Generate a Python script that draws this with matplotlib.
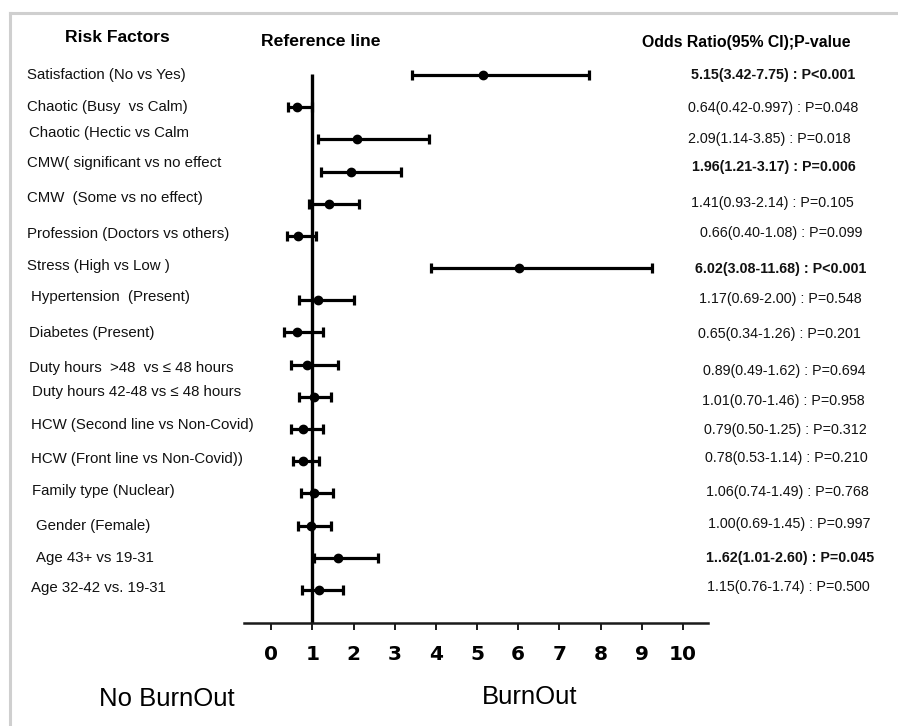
import matplotlib
matplotlib.use("Agg")
import matplotlib.pyplot as plt
import matplotlib.transforms as mtransforms
from matplotlib.lines import Line2D

# ---------------- data ----------------
factors = [
    "Satisfaction (No vs Yes)",
    "Chaotic (Busy  vs Calm)",
    "Chaotic (Hectic vs Calm",
    "CMW( significant vs no effect",
    "CMW  (Some vs no effect)",
    "Profession (Doctors vs others)",
    "Stress (High vs Low )",
    "Hypertension  (Present)",
    "Diabetes (Present)",
    "Duty hours  >48  vs \u2264 48 hours",
    "Duty hours 42-48 vs \u2264 48 hours",
    "HCW (Second line vs Non-Covid)",
    "HCW (Front line vs Non-Covid))",
    "Family type (Nuclear)",
    "Gender (Female)",
    "Age 43+ vs 19-31",
    "Age 32-42 vs. 19-31",
]
# plotted points (as drawn in the figure)
odds = [5.14, 0.62, 2.08, 1.94, 1.41, 0.64, 6.01, 1.13, 0.62,
        0.87, 1.03, 0.77, 0.77, 1.05, 0.97, 1.62, 1.15]
ci_low = [3.41, 0.40, 1.13, 1.21, 0.92, 0.38, 3.88, 0.68, 0.32,
          0.49, 0.68, 0.49, 0.52, 0.73, 0.66, 1.03, 0.74]
ci_high = [7.73, 1.00, 3.84, 3.16, 2.14, 1.08, 9.26, 2.00, 1.26,
           1.63, 1.46, 1.25, 1.15, 1.50, 1.45, 2.59, 1.74]
result_text = [
    "5.15(3.42-7.75) : P<0.001",
    "0.64(0.42-0.997) : P=0.048",
    "2.09(1.14-3.85) : P=0.018",
    "1.96(1.21-3.17) : P=0.006",
    "1.41(0.93-2.14) : P=0.105",
    "0.66(0.40-1.08) : P=0.099",
    "6.02(3.08-11.68) : P<0.001",
    "1.17(0.69-2.00) : P=0.548",
    "0.65(0.34-1.26) : P=0.201",
    "0.89(0.49-1.62) : P=0.694",
    "1.01(0.70-1.46) : P=0.958",
    "0.79(0.50-1.25) : P=0.312",
    "0.78(0.53-1.14) : P=0.210",
    "1.06(0.74-1.49) : P=0.768",
    "1.00(0.69-1.45) : P=0.997",
    "1..62(1.01-2.60) : P=0.045",
    "1.15(0.76-1.74) : P=0.500",
]
significant = [True, False, False, True, False, False, True, False, False,
               False, False, False, False, False, False, True, False]
x_ticks = [0, 1, 2, 3, 4, 5, 6, 7, 8, 9, 10]
reference_value = 1

# ---------------- layout (pixels) ----------------
label_x_px = [27, 27, 29, 27, 27, 27, 27, 31, 29, 29, 32, 31, 31, 32, 36, 36, 31]
label_dy_px = [0, 0, -6, -9, -6, -2, -2, -3, 1, 3, -5, -4, -2, -2, 0, 0, -2]
result_x_px = [691, 688, 688, 692, 691, 700, 695, 699, 698,
               703, 702, 704, 705, 706, 708, 706, 707]
result_dy_px = [0, 1, 0, -4.5, -1, -3, 1, -1, 1.5, 6.5, 4, 1, -3, -1.5, -1.5, 0, -3]

W, H = 898, 726
plt.rcParams["font.family"] = ["Liberation Sans", "DejaVu Sans"]
fig = plt.figure(figsize=(W / 100, H / 100), dpi=100)
fig.patch.set_facecolor("white")

def fx(px):
    return px / W

def fy(py):
    return 1 - py / H

ax_left, ax_right = 244, 708
ax_top, ax_bot = 60, 622.7
ax = fig.add_axes([fx(ax_left), fy(ax_bot), fx(ax_right - ax_left), (ax_bot - ax_top) / H])
row_step = 32.18
first_row_px = 75
ax.set_xlim(-0.66, 10.61)
ax.set_ylim((ax_bot - first_row_px) / row_step, (ax_top - first_row_px) / row_step)
ax.patch.set_alpha(0)

rows = list(range(len(factors)))

for s in ["top", "right", "left"]:
    ax.spines[s].set_visible(False)
ax.spines["bottom"].set_linewidth(1.8)
ax.spines["bottom"].set_color("#1a1a1a")
ax.set_yticks([])
ax.set_xticks(x_ticks)
ax.set_xticklabels([str(t) for t in x_ticks], fontsize=14.5, fontweight="bold",
                   family="DejaVu Sans")
ax.tick_params(axis="x", direction="out", length=5, width=1.4, pad=11, colors="#1a1a1a")
for lbl in ax.get_xticklabels():
    lbl.set_color("black")

# reference line
ax.vlines(reference_value, -0.03, ax.get_ylim()[0], color="black", lw=2.4, zorder=2)

# error bars
xerr = [[o - l for o, l in zip(odds, ci_low)], [h - o for o, h in zip(odds, ci_high)]]
ax.errorbar(odds, rows, xerr=xerr, fmt="o", color="black", ecolor="black",
            elinewidth=2.3, capsize=3.4, capthick=2.3, markersize=6, zorder=3,
            clip_on=False)

# texts tied to rows
trans = mtransforms.blended_transform_factory(fig.transFigure, ax.transData)
for r, name, lx, ldy in zip(rows, factors, label_x_px, label_dy_px):
    fig.text(fx(lx), r + ldy / row_step, name, transform=trans, ha="left", va="center",
             fontsize=10.8, color="#111111")
for r, txt, sig, rx, rdy in zip(rows, result_text, significant, result_x_px, result_dy_px):
    fig.text(fx(rx), r + rdy / row_step, txt, transform=trans, ha="left", va="center",
             fontsize=10.3,
             fontweight="bold" if sig else "normal", color="#111111")

# headers
fig.text(fx(117), fy(37), "Risk Factors", ha="center", va="center",
         fontsize=12.6, fontweight="bold")
fig.text(fx(321), fy(42), "Reference line", ha="center", va="center",
         fontsize=12.6, fontweight="bold")
fig.text(fx(746), fy(43), "Odds Ratio(95% CI);P-value", ha="center", va="center",
         fontsize=11.4, fontweight="bold")

# bottom annotations
fig.text(fx(167), fy(699), "No BurnOut", ha="center", va="center", fontsize=18.5)
fig.text(fx(530), fy(697), "BurnOut", ha="center", va="center", fontsize=18.5)

# frame (grey top and left edges)
fig.add_artist(Line2D([fx(9.5), 1], [fy(12.5), fy(12.5)], transform=fig.transFigure,
                      color="#cfcfcf", lw=2.2))
fig.add_artist(Line2D([fx(9.5), fx(9.5)], [fy(12.5), 0], transform=fig.transFigure,
                      color="#cfcfcf", lw=2.2))

fig.savefig("out.png", dpi=100, facecolor="white")
